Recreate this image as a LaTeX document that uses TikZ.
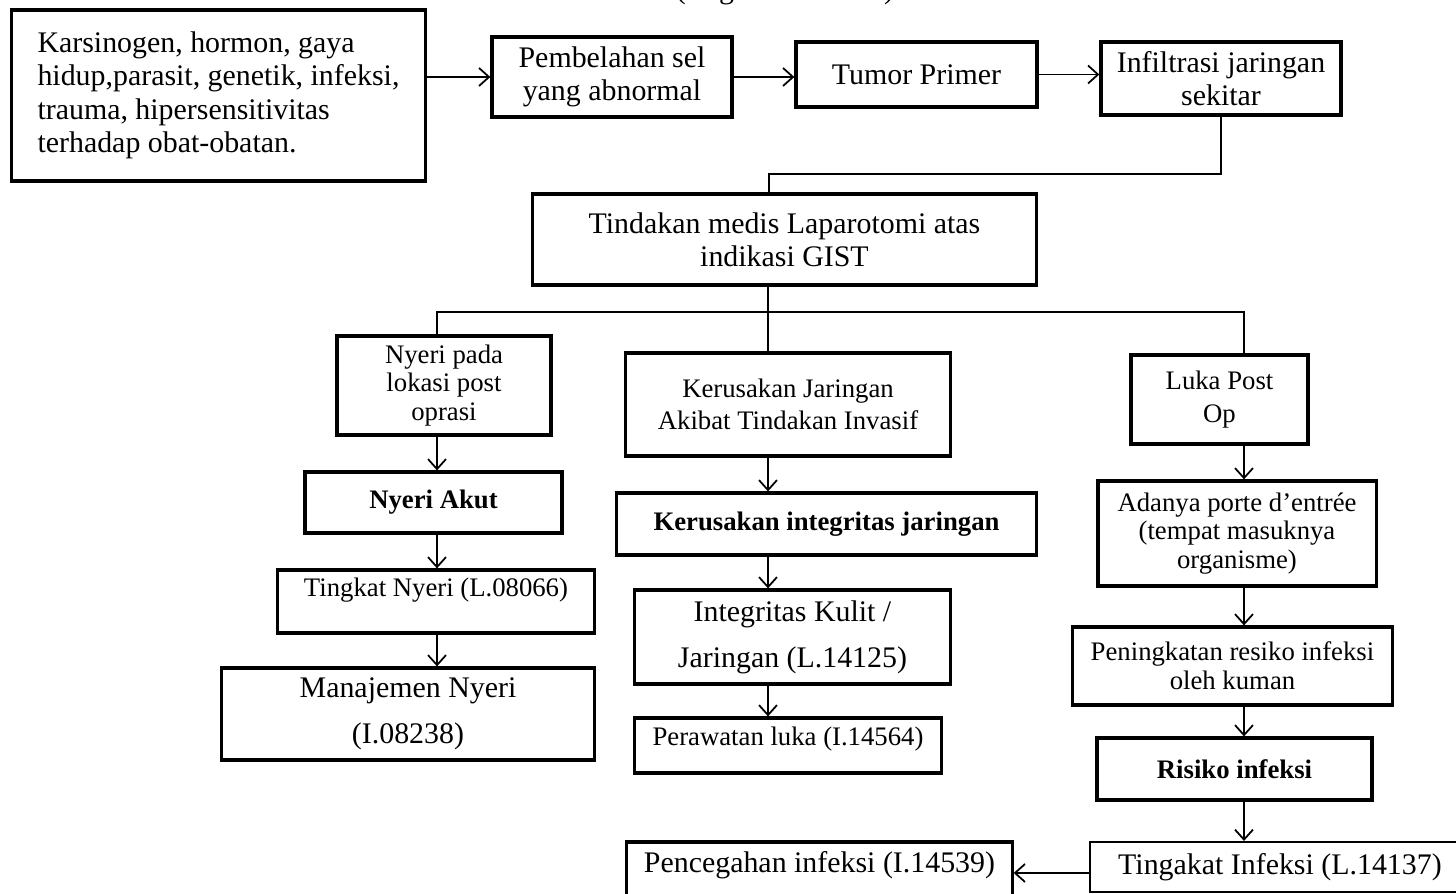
\documentclass[tikz,border=0pt]{standalone}
\usepackage{fontspec}
\setmainfont{Liberation Serif}
\usetikzlibrary{arrows.meta,positioning,calc}

\begin{document}
\begin{tikzpicture}[x=0.01cm, y=-0.01cm,
  font=\fontsize{8.5}{9.5}\selectfont,
  blk/.style={draw, line width=0.9pt, inner sep=2pt, align=center},
  sm/.style={font=\fontsize{7.6}{8.2}\selectfont},
  arr/.style={-{Straight Barb[length=1mm, width=1.8mm]}, line width=0.5pt},
  ln/.style={line width=0.5pt}
]
\useasboundingbox (0,0) rectangle (1456,894);
\node[anchor=base] (title) at (785,-1) {(Bagan 2.1 WOC)};
% top row
\node[blk, align=left, minimum width=4.13cm, minimum height=1.71cm] (causes) at (218.5,95.5)
  {Karsinogen, hormon, gaya\\hidup,parasit, genetik, infeksi,\\trauma, hipersensitivitas\\terhadap obat-obatan.};
\node[blk, minimum width=2.40cm, minimum height=0.80cm] (pembelahan) at (612,77) {Pembelahan sel\\yang abnormal};
\node[blk, minimum width=2.41cm, minimum height=0.65cm] (tumor) at (916.5,74.5) {Tumor Primer};
\node[blk, minimum width=2.40cm, minimum height=0.73cm] (infiltrasi) at (1221,78.5) {Infiltrasi jaringan\\sekitar};
\node[blk, minimum width=5.03cm, minimum height=0.91cm] (tindakan) at (784.5,239.5) {Tindakan medis Laparotomi atas\\indikasi GIST};
% left column
\node[blk, sm, minimum width=2.14cm, minimum height=0.99cm] (nyeri) at (444,385.5) {Nyeri pada\\lokasi post\\oprasi};
\node[blk, sm, minimum width=2.57cm, minimum height=0.61cm] (akut) at (433.5,502.5) {\bfseries Nyeri Akut};
\node[blk, sm, minimum width=3.16cm, minimum height=0.63cm] (tingkat) at (436,601.5) {Tingkat Nyeri (L.08066)\\\mbox{}};
\node[blk, minimum width=3.72cm, minimum height=0.92cm] (manajemen) at (408,714) {Manajemen Nyeri\\[3.5pt](I.08238)};
% middle column
\node[blk, sm, minimum width=3.24cm, minimum height=1.03cm] (jaringan) at (788,404.5) {Kerusakan Jaringan\\[1pt]Akibat Tindakan Invasif};
\node[blk, sm, minimum width=4.19cm, minimum height=0.62cm] (integritas) at (826.5,524) {\bfseries Kerusakan integritas jaringan};
\node[blk, minimum width=3.15cm, minimum height=0.94cm] (kulit) at (792.5,637) {Integritas Kulit /\\[3.5pt]Jaringan (L.14125)};
\node[blk, sm, minimum width=3.06cm, minimum height=0.55cm] (perawatan) at (788,745.5) {Perawatan luka (I.14564)\\[-3pt]\mbox{}};
% right column
\node[blk, sm, minimum width=1.77cm, minimum height=0.89cm] (luka) at (1219.5,399.5) {Luka Post\\[1pt]Op};
\node[blk, sm, minimum width=2.78cm, minimum height=1.05cm] (portal) at (1237,533.5) {Adanya porte d’entrée\\(tempat masuknya\\organisme)};
\node[blk, sm, minimum width=3.19cm, minimum height=0.78cm] (peningkatan) at (1232.5,666) {Peningkatan resiko infeksi\\oleh kuman};
\node[blk, sm, minimum width=2.75cm, minimum height=0.62cm] (risiko) at (1234.5,769) {\bfseries Risiko infeksi};
\node[blk, line width=0.6pt, minimum width=3.80cm, minimum height=0.50cm] (tingakat) at (1280,867) {Tingakat Infeksi (L.14137)};
\node[blk, minimum width=3.85cm, minimum height=0.62cm] (pencegahan) at (819.5,873) {Pencegahan infeksi (I.14539)\\[-3pt]\mbox{}};
% branch points
\coordinate (elbow) at (769,174);
\coordinate (colL) at (437,312);
\coordinate (colM) at (768,312);
\coordinate (colR) at (1244,312);
% connectors
\draw[arr] (causes.east |- pembelahan.west) -- (pembelahan.west);
\draw[arr] (pembelahan.east) -- (pembelahan.east -| tumor.west);
\draw[arr] (tumor.east) -- (tumor.east -| infiltrasi.west);
\draw[ln] (infiltrasi.south) |- (elbow) -- (elbow |- tindakan.north);
\draw[ln] (tindakan.south -| colM) -- (jaringan.north -| colM);
\draw[ln] (nyeri.north -| colL) |- (colM) -| (luka.north -| colR);
\draw[arr] (nyeri.south -| colL) -- (akut.north -| colL);
\draw[arr] (akut.south -| colL) -- (tingkat.north -| colL);
\draw[arr] (tingkat.south -| colL) -- (manajemen.north -| colL);
\draw[arr] (jaringan.south -| colM) -- (integritas.north -| colM);
\draw[arr] (integritas.south -| colM) -- (kulit.north -| colM);
\draw[arr] (kulit.south -| colM) -- (perawatan.north -| colM);
\draw[arr] (luka.south -| colR) -- (portal.north -| colR);
\draw[arr] (portal.south -| colR) -- (peningkatan.north -| colR);
\draw[arr] (peningkatan.south -| colR) -- (risiko.north -| colR);
\draw[arr] (risiko.south -| colR) -- (tingakat.north -| colR);
\draw[arr] (pencegahan.east -| tingakat.west) -- (pencegahan.east);
\end{tikzpicture}
\end{document}
